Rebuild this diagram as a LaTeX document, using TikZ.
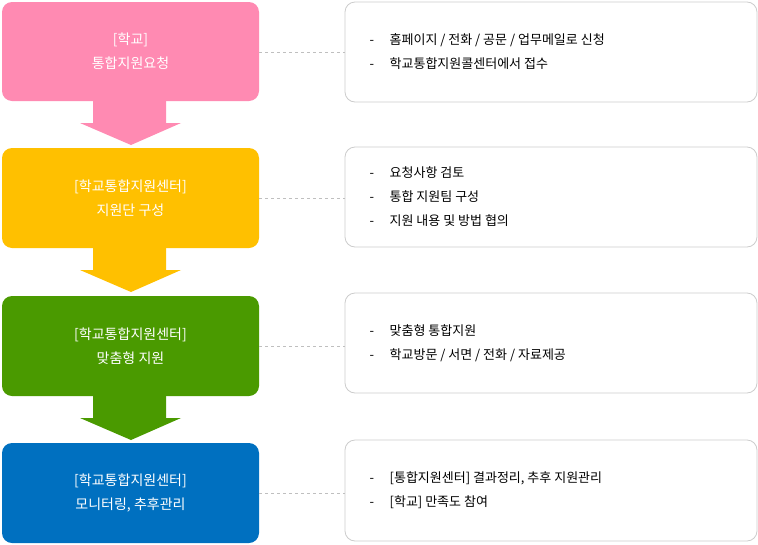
\documentclass[tikz,border=0pt]{standalone}
\usepackage{fontspec}
\setmainfont{Noto Sans CJK KR}
\begin{document}
\begin{tikzpicture}[x=1pt,y=-1pt,
 lbox/.style={rounded corners=10pt,draw=none},
 rbox/.style={rounded corners=10pt,draw=black!20,line width=0.8pt,fill=white},
 ltxt/.style={text=white,align=center,font=\fontsize{14}{24}\selectfont},
 rtxt/.style={align=left,anchor=west,font=\fontsize{13}{24}\selectfont},
 conn/.style={draw=black!25,dashed,line width=0.6pt}]
\definecolor{cpink}{HTML}{FF8AB2}
\definecolor{corange}{HTML}{FFC000}
\definecolor{cgreen}{HTML}{4A9A00}
\definecolor{cblue}{HTML}{0070C0}
\useasboundingbox (0,0) rectangle (758,544);
% arrows
\foreach \c/\y in {cpink/101,corange/248,cgreen/396}{
 \fill[\c] (93,\y-1) -- (166,\y-1) -- (166,\y+22) -- (181,\y+22) -- (131,\y+44) -- (80,\y+22) -- (93,\y+22) -- cycle;}
\fill[cpink,lbox] (2,2) rectangle (259,101);
\fill[corange,lbox] (2,148) rectangle (259,248);
\fill[cgreen,lbox] (2,296) rectangle (259,396);
\fill[cblue,lbox] (2,443) rectangle (259,543);
\node[ltxt] (l1) at (130.5,51.5) {[학교]\\통합지원요청};
\node[ltxt] (l2) at (130.5,198) {[학교통합지원센터]\\지원단 구성};
\node[ltxt] (l3) at (130.5,346) {[학교통합지원센터]\\맞춤형 지원};
\node[ltxt] (l4) at (130.5,493) {[학교통합지원센터]\\모니터링, 추후관리};
\draw[rbox] (345,2) rectangle (757,102);
\draw[rbox] (345,147) rectangle (757,247);
\draw[rbox] (345,293) rectangle (757,393);
\draw[rbox] (345,440) rectangle (757,541);
\coordinate (a1) at (259,52); \coordinate (b1) at (345,52);
\coordinate (a2) at (259,198); \coordinate (b2) at (345,198);
\coordinate (a3) at (259,346); \coordinate (b3) at (345,346);
\coordinate (a4) at (259,493); \coordinate (b4) at (345,493);
\foreach \i in {1,...,4}{\draw[conn] (a\i) -- (b\i);}
\node[rtxt] (r1) at (366,52) {-\hspace{1.2em}홈페이지 / 전화 / 공문 / 업무메일로 신청\\-\hspace{1.2em}학교통합지원콜센터에서 접수};
\node[rtxt] (r2) at (366,197) {-\hspace{1.2em}요청사항 검토\\-\hspace{1.2em}통합 지원팀 구성\\-\hspace{1.2em}지원 내용 및 방법 협의};
\node[rtxt] (r3) at (366,343) {-\hspace{1.2em}맞춤형 통합지원\\-\hspace{1.2em}학교방문 / 서면 / 전화 / 자료제공};
\node[rtxt] (r4) at (366,490) {-\hspace{1.2em}[통합지원센터] 결과정리, 추후 지원관리\\-\hspace{1.2em}[학교] 만족도 참여};
\end{tikzpicture}
\end{document}
